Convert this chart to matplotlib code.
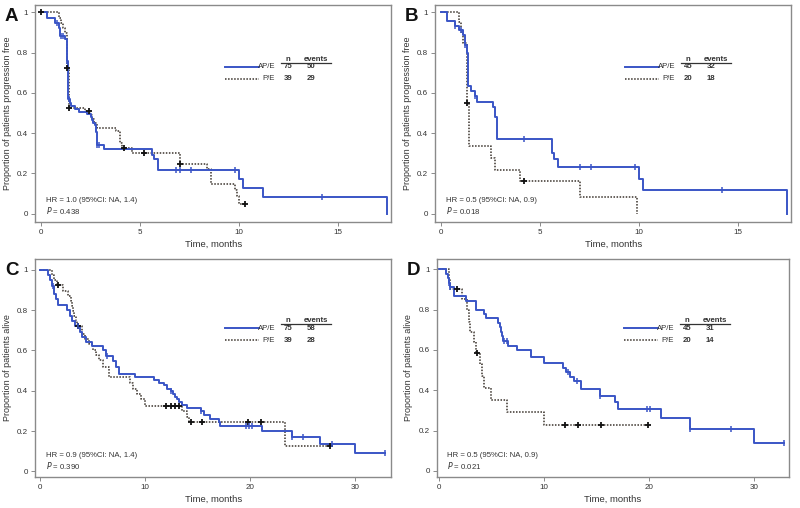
import numpy as np
import matplotlib
matplotlib.use('Agg')
import matplotlib.pyplot as plt

plt.rcParams['font.family'] = ['Liberation Sans', 'DejaVu Sans']

# ---- data (step times, survival after step, censor times) ----
A_ape_t = [0, 0.3, 0.7, 0.9, 0.95, 1.2, 1.3, 1.35, 1.45, 1.5, 1.7, 1.9, 2.3, 2.5, 2.55, 2.6, 2.7, 2.75, 2.8, 3.2, 5.6, 5.7, 5.9, 10.0, 10.2, 11.2, 17.5]
A_ape_s = [1, 0.973, 0.947, 0.92, 0.88, 0.867, 0.76, 0.57, 0.55, 0.533, 0.52, 0.507, 0.493, 0.48, 0.467, 0.453, 0.44, 0.407, 0.34, 0.32, 0.29, 0.27, 0.217, 0.172, 0.129, 0.083, 0.0]
A_ape_c = [0.8, 1.0, 1.1, 1.3, 1.4, 2.85, 2.95, 6.8, 7.0, 7.6, 9.8, 14.2]
A_pe_t = [0, 0.9, 1.0, 1.1, 1.2, 1.3, 1.4, 2.2, 2.45, 2.55, 2.65, 2.85, 3.8, 4.0, 4.1, 4.6, 7.0, 8.4, 8.6, 9.8, 9.9, 10.0, 10.3]
A_pe_s = [1, 0.974, 0.949, 0.923, 0.897, 0.725, 0.523, 0.51, 0.49, 0.47, 0.45, 0.427, 0.41, 0.35, 0.328, 0.30, 0.246, 0.22, 0.15, 0.12, 0.09, 0.046, 0.046]
A_pe_c = [0.0, 1.3, 1.4, 2.4, 4.2, 5.2, 7.0, 10.3]

B_ape_t = [0, 0.3, 0.7, 0.9, 1.1, 1.2, 1.3, 1.35, 1.5, 1.7, 1.8, 2.6, 2.7, 2.8, 5.6, 5.7, 5.9, 10.0, 10.2, 17.5]
B_ape_s = [1, 0.955, 0.933, 0.91, 0.889, 0.84, 0.80, 0.634, 0.61, 0.585, 0.556, 0.53, 0.48, 0.369, 0.30, 0.27, 0.233, 0.17, 0.116, 0.0]
B_ape_c = [0.7, 1.0, 1.2, 1.7, 4.2, 7.0, 7.6, 9.8, 14.2]
B_pe_t = [0, 0.9, 1.0, 1.1, 1.3, 1.4, 2.5, 2.7, 4.0, 7.0, 9.9]
B_pe_s = [1, 0.95, 0.90, 0.85, 0.55, 0.336, 0.275, 0.217, 0.165, 0.081, 0.0]
B_pe_c = [1.3, 4.2]

C_ape_t = [0, 0.7, 0.9, 1.1, 1.3, 1.5, 1.7, 2.5, 2.8, 3.0, 3.3, 3.8, 4.0, 4.4, 4.9, 6.0, 6.3, 6.9, 7.2, 7.5, 9.0, 10.8, 11.3, 11.8, 12.1, 12.4, 12.6, 12.8, 13.0, 13.2, 13.5, 14.0, 15.3, 15.6, 16.2, 17.0, 17.1, 21.1, 24.0, 26.6, 30.0, 32.8]
C_ape_s = [1, 0.973, 0.947, 0.92, 0.88, 0.853, 0.827, 0.80, 0.773, 0.747, 0.72, 0.693, 0.667, 0.64, 0.62, 0.60, 0.573, 0.547, 0.52, 0.483, 0.466, 0.453, 0.44, 0.427, 0.41, 0.397, 0.383, 0.37, 0.357, 0.343, 0.33, 0.315, 0.30, 0.28, 0.26, 0.245, 0.227, 0.20, 0.17, 0.136, 0.091, 0.091]
C_ape_c = [1.2, 3.6, 6.4, 12.4, 15.3, 19.6, 19.9, 20.2, 24.0, 25.0, 27.8, 32.8]
C_pe_t = [0, 1.1, 1.3, 1.6, 2.2, 2.6, 2.9, 3.0, 3.1, 3.2, 3.4, 3.5, 4.0, 4.3, 4.6, 5.0, 5.3, 5.6, 6.0, 6.5, 8.5, 8.8, 9.2, 9.6, 10.0, 13.5, 14.0, 14.2, 23.3, 27.6]
C_pe_s = [1, 0.974, 0.95, 0.923, 0.897, 0.87, 0.846, 0.82, 0.795, 0.77, 0.744, 0.72, 0.68, 0.655, 0.63, 0.60, 0.575, 0.55, 0.52, 0.466, 0.44, 0.41, 0.385, 0.36, 0.326, 0.30, 0.27, 0.246, 0.124, 0.124]
C_pe_c = [1.7, 3.6, 12.0, 12.4, 12.8, 13.2, 14.3, 15.4, 19.8, 21.0, 27.6]

D_ape_t = [0, 0.7, 0.9, 1.0, 1.1, 1.4, 2.6, 3.5, 4.3, 4.5, 5.6, 5.8, 5.9, 6.0, 6.1, 6.6, 7.4, 8.8, 10.0, 11.8, 12.1, 12.5, 12.9, 13.5, 15.3, 16.8, 17.0, 21.1, 23.9, 30.0, 32.8]
D_ape_s = [1, 0.978, 0.956, 0.933, 0.911, 0.867, 0.844, 0.80, 0.778, 0.756, 0.733, 0.711, 0.689, 0.667, 0.644, 0.62, 0.60, 0.565, 0.535, 0.511, 0.489, 0.467, 0.444, 0.405, 0.37, 0.34, 0.306, 0.262, 0.208, 0.138, 0.138]
D_ape_c = [1.0, 1.1, 6.2, 6.5, 12.3, 13.1, 15.3, 19.8, 20.1, 23.9, 27.8, 32.8]
D_pe_t = [0, 1.0, 1.1, 2.2, 2.7, 2.9, 3.0, 3.3, 3.5, 3.9, 4.1, 4.3, 5.0, 6.5, 10.0, 19.9]
D_pe_s = [1, 0.95, 0.90, 0.85, 0.80, 0.74, 0.69, 0.64, 0.585, 0.53, 0.47, 0.41, 0.35, 0.29, 0.23, 0.23]
D_pe_c = [1.7, 3.6, 12.0, 13.2, 15.4, 19.9]

letters = ['A', 'B', 'C', 'D']
ylabels = ['Proportion of patients progression free', 'Proportion of patients progression free',
           'Proportion of patients alive', 'Proportion of patients alive']
n_ape = [75, 45, 75, 45]
ev_ape = [50, 32, 58, 31]
n_pe = [39, 20, 39, 20]
ev_pe = [29, 18, 28, 14]
hr_text = ['HR = 1.0 (95%CI: NA, 1.4)', 'HR = 0.5 (95%CI: NA, 0.9)',
           'HR = 0.9 (95%CI: NA, 1.4)', 'HR = 0.5 (95%CI: NA, 0.9)']
p_text = ['0.438', '0.018', '0.390', '0.021']
xticks_list = [[0, 5, 10, 15], [0, 5, 10, 15], [0, 10, 20, 30], [0, 10, 20, 30]]

curves = [(A_ape_t, A_ape_s, A_ape_c, A_pe_t, A_pe_s, A_pe_c),
          (B_ape_t, B_ape_s, B_ape_c, B_pe_t, B_pe_s, B_pe_c),
          (C_ape_t, C_ape_s, C_ape_c, C_pe_t, C_pe_s, C_pe_c),
          (D_ape_t, D_ape_s, D_ape_c, D_pe_t, D_pe_s, D_pe_c)]

# ---- layout (figure fractions) ----
boxes = [[0.044, 0.563, 0.445, 0.427], [0.544, 0.563, 0.445, 0.427],
         [0.044, 0.061, 0.445, 0.429], [0.546, 0.061, 0.440, 0.429]]
xlims = [(-0.3, 17.7), (-0.3, 17.7), (-0.48, 33.4), (-0.2, 33.3)]
ylims = [(-0.041, 1.036), (-0.041, 1.036), (-0.028, 1.053), (-0.03, 1.05)]
leg_y = [0.716, 0.716, 0.683, 0.683]

blue = '#3a55c6'
dark = '#3a332c'
frame = '#8a8a8a'
txt = '#333333'
fs = 5.6


def surv_at(tc, t, s):
    # value of the step function right after time tc
    i = np.searchsorted(t, tc, side='right') - 1
    return np.array(s)[i]


fig = plt.figure(figsize=(8, 5.08), dpi=100)

for k in range(4):
    ax = fig.add_axes(boxes[k])
    t1, s1, c1, t2, s2, c2 = curves[k]

    ax.step(t2, s2, where='post', color=dark, lw=1.1, ls=(0, (1, 1)))
    ax.step(t1, s1, where='post', color=blue, lw=1.4)
    ax.plot(c2, surv_at(c2, t2, s2), ls='none', marker='+', ms=5, mew=1.3, color='#111111')
    ax.plot(c1, surv_at(c1, t1, s1), ls='none', marker='|', ms=4, mew=1.1, color=blue)

    ax.set_xlim(*xlims[k])
    ax.set_ylim(*ylims[k])
    ax.set_xticks(xticks_list[k])
    ax.set_yticks([0, 0.2, 0.4, 0.6, 0.8, 1])
    ax.set_yticklabels(['0', '0.2', '0.4', '0.6', '0.8', '1'])
    ax.tick_params(labelsize=5.8, length=3, width=0.7, color=frame, labelcolor=txt, pad=2)
    for sp in ax.spines.values():
        sp.set_color(frame)
        sp.set_linewidth(1.0)
    ax.set_xlabel('Time, months', fontsize=6.8, color=txt, labelpad=3)
    ax.set_ylabel(ylabels[k], fontsize=6.5, color=txt, labelpad=4)

    # in-plot legend table
    y0 = leg_y[k]
    dy = 0.056
    ax.plot([0.533, 0.628], [y0, y0], transform=ax.transAxes, color=blue, lw=1.4)
    ax.plot([0.533, 0.628], [y0 - dy, y0 - dy], transform=ax.transAxes, color=dark, lw=1.1, ls=(0, (1, 1)))
    ax.text(0.674, y0, 'AP/E', transform=ax.transAxes, ha='right', va='center', fontsize=fs, color=txt)
    ax.text(0.674, y0 - dy, 'P/E', transform=ax.transAxes, ha='right', va='center', fontsize=fs, color=txt)
    ax.text(0.711, y0, str(n_ape[k]), transform=ax.transAxes, ha='center', va='center', fontsize=fs, fontweight='bold', color=txt)
    ax.text(0.711, y0 - dy, str(n_pe[k]), transform=ax.transAxes, ha='center', va='center', fontsize=fs, fontweight='bold', color=txt)
    ax.text(0.775, y0, str(ev_ape[k]), transform=ax.transAxes, ha='center', va='center', fontsize=fs, fontweight='bold', color=txt)
    ax.text(0.775, y0 - dy, str(ev_pe[k]), transform=ax.transAxes, ha='center', va='center', fontsize=fs, fontweight='bold', color=txt)
    ax.text(0.711, y0 + 0.034, 'n', transform=ax.transAxes, ha='center', va='center', fontsize=fs, fontweight='bold', color=txt)
    ax.text(0.789, y0 + 0.034, 'events', transform=ax.transAxes, ha='center', va='center', fontsize=fs, fontweight='bold', color=txt)
    ax.plot([0.69, 0.832], [y0 + 0.018, y0 + 0.018], transform=ax.transAxes, color=txt, lw=0.9)

    ax.text(0.03, 0.097, hr_text[k], transform=ax.transAxes, ha='left', va='center', fontsize=fs, color=txt)
    ax.text(0.03, 0.055, r'$\it{P}$ = ' + p_text[k], transform=ax.transAxes, ha='left', va='center', fontsize=fs, color=txt)

    # panel letter
    fig.text(boxes[k][0] - 0.038, boxes[k][1] + boxes[k][3] - 0.006, letters[k], fontsize=13.5,
             fontweight='bold', ha='left', va='top', color='#111111')

fig.savefig('out.png', dpi=100)
